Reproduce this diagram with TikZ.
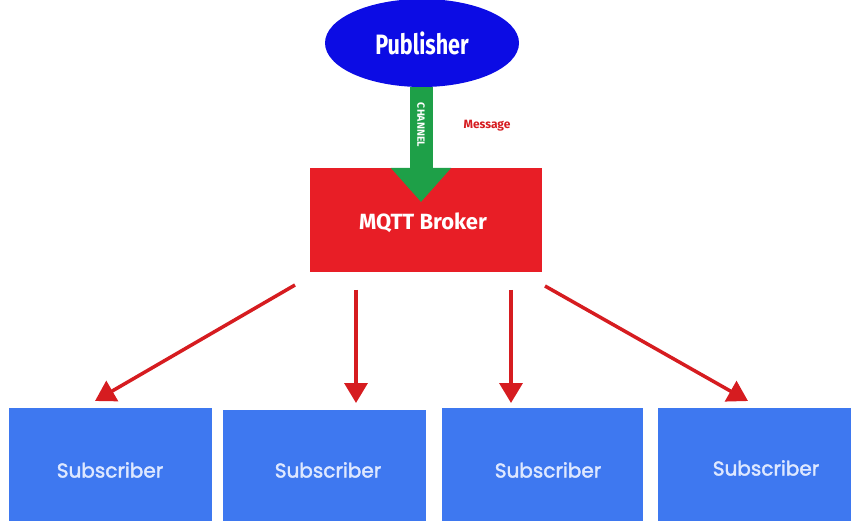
\documentclass[tikz,border=0pt]{standalone}
\usepackage{fontspec}
\setmainfont{Fira Sans}
\newfontfamily\condfont[FakeStretch=0.77]{Fira Sans}
\newfontfamily\geofont[FakeBold=2]{Poppins}
\usetikzlibrary{arrows.meta,shapes.geometric}

\definecolor{pubblue}{RGB}{12,12,228}
\definecolor{brokerred}{RGB}{232,30,38}
\definecolor{linkred}{RGB}{214,28,32}
\definecolor{chgreen}{RGB}{30,160,72}
\definecolor{subblue}{RGB}{62,120,240}
\definecolor{subtext}{RGB}{222,232,255}

\tikzset{
  pubnode/.style={ellipse, fill=pubblue, minimum width=194, minimum height=88,
    inner sep=0, text=white, font=\condfont\bfseries\fontsize{28}{30}\selectfont},
  brokernode/.style={rectangle, fill=brokerred, minimum width=232, minimum height=104,
    inner sep=0},
  brokertext/.style={text=white, font=\bfseries\fontsize{22}{24}\selectfont},
  subnode/.style={rectangle, fill=subblue, inner sep=0, anchor=north west},
  subtextstyle/.style={text=subtext, font=\geofont\fontsize{20}{22}\selectfont},
  link/.style={draw=linkred, line width=3.5, -{Triangle[width=23,length=20]}},
  channel/.style={draw=chgreen, line width=23, -{Triangle[width=58,length=34]}},
}

\begin{document}
\begin{tikzpicture}[x=1pt, y=-1pt]
  \useasboundingbox (0,0) rectangle (851,521);
  \fill[white] (0,0) rectangle (851,521);

  % publisher and broker
  \node[pubnode] (pub) at (422,43) {Publisher};
  \node[brokernode] (broker) at (426,220) {};
  \node[brokertext] (brokerlabel) at (423,223) {MQTT Broker};

  % channel arrow from publisher into the broker
  \coordinate (chtip) at (421,202);
  \draw[channel] (pub.south -| chtip) -- (chtip);
  \node[rotate=-90, text=white, font=\bfseries\fontsize{10.5}{11}\selectfont] (chlabel) at (421,125) {CHANNEL};
  \node[text=linkred, font=\bfseries\fontsize{12}{13}\selectfont] (msg) at (487,126) {Message};

  % subscribers
  \node[subnode, minimum width=203, minimum height=113] (s1) at (9,408) {};
  \node[subnode, minimum width=203, minimum height=111] (s2) at (223,410) {};
  \node[subnode, minimum width=201, minimum height=113] (s3) at (442,408) {};
  \node[subnode, minimum width=193, minimum height=113] (s4) at (658,408) {};
  \node[subtextstyle] (t1) at (110,470) {Subscriber};
  \node[subtextstyle] (t2) at (328,470) {Subscriber};
  \node[subtextstyle] (t3) at (548,470) {Subscriber};
  \node[subtextstyle] (t4) at (766,468) {Subscriber};

  % fan-out links from the broker
  \coordinate (a1s) at (295,285); \coordinate (a1e) at (95,401);
  \coordinate (a2s) at (356,290); \coordinate (a2e) at (356,403);
  \coordinate (a3s) at (511,290); \coordinate (a3e) at (511,403);
  \coordinate (a4s) at (545,286); \coordinate (a4e) at (748,401);
  \draw[link] (a1s) -- (a1e);
  \draw[link] (a2s) -- (a2e);
  \draw[link] (a3s) -- (a3e);
  \draw[link] (a4s) -- (a4e);
\end{tikzpicture}
\end{document}
